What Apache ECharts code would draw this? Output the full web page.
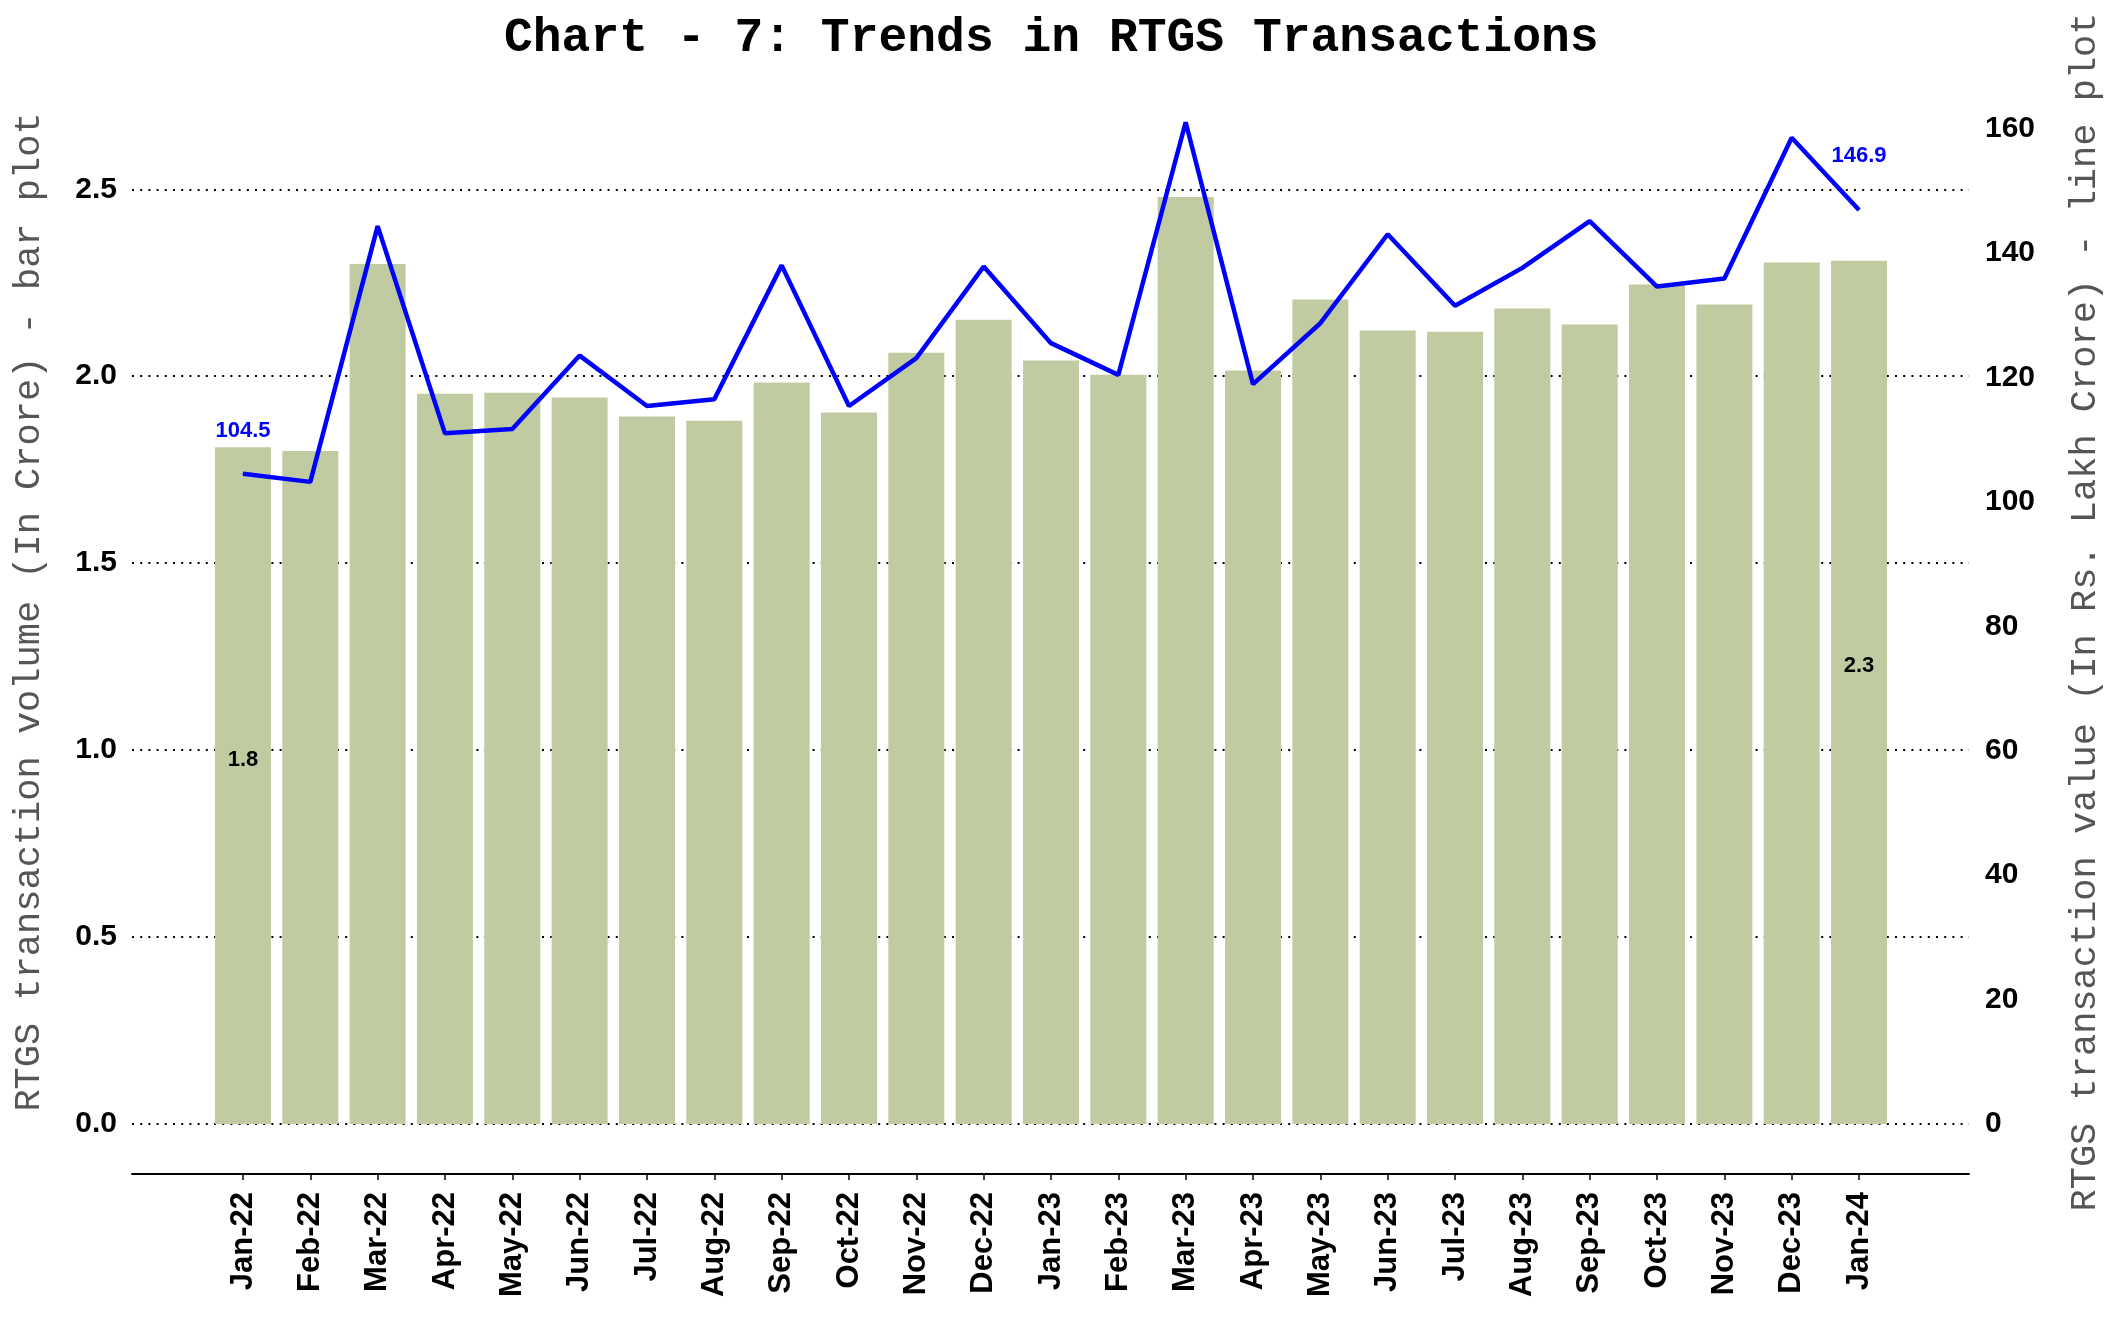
<!DOCTYPE html>
<html>
<head>
<meta charset="utf-8">
<script src="https://cdn.jsdelivr.net/npm/echarts@6/dist/echarts.min.js"></script>
<style>html,body{margin:0;padding:0;background:#fff;}#c{width:2112px;height:1344px;}</style>
</head>
<body>
<div id="c"></div>
<script>
const categories = ['Jan-22','Feb-22','Mar-22','Apr-22','May-22','Jun-22','Jul-22','Aug-22','Sep-22','Oct-22','Nov-22','Dec-22',
  'Jan-23','Feb-23','Mar-23','Apr-23','May-23','Jun-23','Jul-23','Aug-23','Sep-23','Oct-23','Nov-23','Dec-23','Jan-24'];
const volume = [1.81,1.80,2.30,1.953,1.956,1.943,1.892,1.881,1.983,1.903,2.063,2.151,
  2.042,2.004,2.479,2.015,2.205,2.122,2.119,2.181,2.138,2.245,2.192,2.304,2.309];
const txnValue = [104.5,103.2,144.3,111.0,111.7,123.5,115.4,116.5,138.0,115.4,123.1,137.8,
  125.5,120.4,161.0,118.9,128.7,143.0,131.5,137.6,145.1,134.6,135.9,158.5,146.9];
const leftTicks = [0, 2.5, 0.5];   // min, last labelled, step
const rightTicks = [0, 160, 20];

const GRID_TOP = 100, GRID_BOTTOM = 220;
const plotH = 1344 - GRID_TOP - GRID_BOTTOM;
const leftMax = plotH / 373.9;
const rightMax = plotH / 6.222;
const last = categories.length - 1;

const numFont = '"Liberation Sans", Arial, sans-serif';
const monoFont = '"Liberation Mono", "Courier New", monospace';

const barData = volume.map((v, i) => (i === 0 || i === last) ? {
  value: v,
  label: { show: true, position: 'inside', offset: [0, -26], formatter: p => p.value.toFixed(1),
           color: '#000', fontFamily: numFont, fontWeight: 'bold', fontSize: 22 }
} : v);
const lineData = txnValue.map((v, i) => (i === 0 || i === last) ? {
  value: v,
  label: { show: true, position: 'top', distance: i === 0 ? 31 : 43, formatter: p => p.value.toFixed(1),
           color: '#0000FF', fontFamily: numFont, fontWeight: 'bold', fontSize: 22 }
} : v);

const chart = echarts.init(document.getElementById('c'), null, { renderer: 'canvas' });
chart.setOption({
  animation: false,
  backgroundColor: '#ffffff',
  title: {
    text: 'Chart - 7: Trends in RTGS Transactions',
    left: 499, top: 10,
    textStyle: { fontFamily: monoFont, fontWeight: 'bold', fontSize: 48, color: '#000' }
  },
  grid: [
    { left: 209.3, right: 219.3, top: GRID_TOP, bottom: GRID_BOTTOM },
    { left: 132, right: 143, top: GRID_TOP, bottom: GRID_BOTTOM }
  ],
  xAxis: [
    {
      type: 'category', gridIndex: 0, data: categories, position: 'bottom', offset: 50,
      axisLine: { show: false, onZero: false },
      axisTick: { show: true, alignWithLabel: true, length: 6, lineStyle: { color: '#000', width: 1.5 } },
      axisLabel: { rotate: 90, margin: 18, interval: 0, color: '#000', fontFamily: numFont, fontWeight: 'bold',
                   fontSize: 31, padding: [28, 0, 0, 0] },
      splitLine: { show: false }
    },
    {
      type: 'value', gridIndex: 1, min: 0, max: 1, position: 'bottom', offset: 50,
      axisLine: { show: true, onZero: false, lineStyle: { color: '#000', width: 2 } },
      axisTick: { show: false }, axisLabel: { show: false }, splitLine: { show: false }
    }
  ],
  yAxis: [
    { type: 'value', gridIndex: 0, min: 0, max: leftMax, show: false },
    { type: 'value', gridIndex: 0, min: 0, max: rightMax, show: false, position: 'right' },
    {
      type: 'value', gridIndex: 1, position: 'left', min: leftTicks[0], max: leftMax, interval: leftTicks[2],
      axisLine: { show: false }, axisTick: { show: false },
      axisLabel: { showMaxLabel: false, margin: 15, color: '#000', fontFamily: numFont, fontWeight: 'bold', fontSize: 30,
                   formatter: v => v.toFixed(1) },
      splitLine: { show: true, showMaxLine: false, lineStyle: { color: '#000', width: 2, type: [2, 6.2] } },
      name: 'RTGS transaction volume (In Crore) - bar plot',
      nameLocation: 'middle', nameRotate: 90, nameGap: 84,
      nameTextStyle: { fontFamily: monoFont, fontSize: 37, color: '#555555' }
    },
    {
      type: 'value', gridIndex: 1, position: 'right', min: rightTicks[0], max: rightMax, interval: rightTicks[2],
      axisLine: { show: false }, axisTick: { show: false },
      axisLabel: { showMaxLabel: false, margin: 16, color: '#000', fontFamily: numFont, fontWeight: 'bold', fontSize: 30 },
      splitLine: { show: false },
      name: 'RTGS transaction value (In Rs. Lakh Crore) - line plot',
      nameLocation: 'middle', nameRotate: 90, nameGap: 98,
      nameTextStyle: { fontFamily: monoFont, fontSize: 37, color: '#555555' }
    }
  ],
  series: [
    {
      type: 'bar', xAxisIndex: 0, yAxisIndex: 0, data: barData, barWidth: 56,
      itemStyle: { color: '#C1CBA2' }
    },
    {
      type: 'line', xAxisIndex: 0, yAxisIndex: 1, data: lineData, showSymbol: true, symbol: 'circle', symbolSize: 1,
      itemStyle: { color: '#0000FF' },
      lineStyle: { color: '#0000FF', width: 4.5 }, z: 5
    }
  ]
});
</script>
</body>
</html>
